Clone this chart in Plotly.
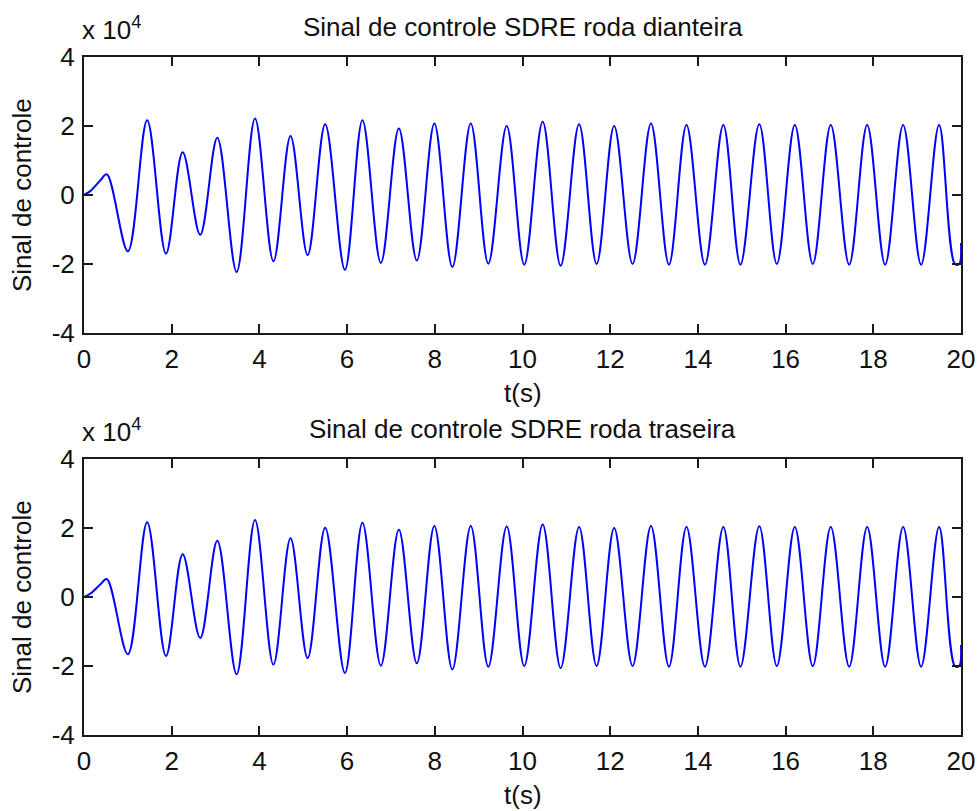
import plotly.graph_objects as go

# ---- data (units of the signal) ----
t_front = [0, 0.15, 0.37, 0.52, 1.00, 1.44, 1.87, 2.25, 2.65, 3.04, 3.48, 3.90, 4.32, 4.71,
           5.10, 5.50, 5.95, 6.35, 6.77, 7.18, 7.59, 7.99, 8.40, 8.82, 9.22, 9.64, 10.04,
           10.46, 10.87, 11.29, 11.69, 12.09, 12.51, 12.93, 13.34, 13.74, 14.16, 14.58,
           14.97, 15.40, 15.80, 16.21, 16.62, 17.03, 17.45, 17.86, 18.27, 18.68, 19.09,
           19.50, 19.86, 19.96, 20.0]
u_front = [0, 1200, 4200, 6000, -16300, 21700, -17000, 12400, -11500, 16600, -22300, 22200,
           -19200, 17100, -17400, 20500, -21700, 21700, -19700, 19300, -19000, 20700, -20900,
           20700, -19900, 20000, -20200, 21200, -20500, 20500, -20000, 20000, -20000, 20700,
           -20200, 20300, -20200, 20300, -20200, 20500, -20000, 20300, -20000, 20300, -20200,
           20300, -20200, 20300, -20200, 20300, -20000, -20000, -13900]

t_rear = [0, 0.15, 0.37, 0.52, 1.00, 1.44, 1.87, 2.25, 2.65, 3.04, 3.48, 3.90, 4.32, 4.71,
          5.10, 5.50, 5.95, 6.35, 6.77, 7.18, 7.59, 7.99, 8.40, 8.82, 9.22, 9.64, 10.04,
          10.46, 10.87, 11.29, 11.69, 12.09, 12.51, 12.93, 13.34, 13.74, 14.16, 14.58,
          14.97, 15.40, 15.80, 16.21, 16.62, 17.03, 17.45, 17.86, 18.27, 18.68, 19.09,
          19.50, 19.86, 19.96, 20.0]
u_rear = [0, 1000, 3600, 5200, -16600, 21700, -17100, 12400, -11900, 16300, -22400, 22300,
          -19600, 17000, -17700, 20100, -22000, 21500, -19900, 19500, -19200, 20600, -21000,
          20600, -20200, 20400, -20000, 21000, -20600, 20300, -20000, 20000, -20000, 20600,
          -20200, 20300, -20200, 20300, -20200, 20500, -20000, 20300, -20000, 20300, -20200,
          20300, -20200, 20300, -20200, 20300, -20000, -20000, -13900]

x_ticks = [0, 2, 4, 6, 8, 10, 12, 14, 16, 18, 20]
y_ticks = [-40000, -20000, 0, 20000, 40000]
y_tick_text = ["-4", "-2", "0", "2", "4"]

titles = ["Sinal de controle SDRE roda dianteira", "Sinal de controle SDRE roda traseira"]
y_label = "Sinal de controle"
x_label = "t(s)"

# ---- layout geometry ----
W, H = 978, 811
FONT = "Liberation Sans, Arial, sans-serif"
FS = 26
TXT = "#111111"
x_dom = [84 / W, 961 / W]
top_dom = [1 - 333 / H, 1 - 57 / H]
bot_dom = [1 - 735 / H, 1 - 459 / H]

fig = go.Figure()
fig.add_trace(go.Scatter(x=t_front, y=u_front, mode="lines",
                         line=dict(color="#0000ff", width=2, shape="spline", smoothing=1.0),
                         xaxis="x", yaxis="y", showlegend=False))
fig.add_trace(go.Scatter(x=t_rear, y=u_rear, mode="lines",
                         line=dict(color="#0000ff", width=2, shape="spline", smoothing=1.0),
                         xaxis="x2", yaxis="y2", showlegend=False))

axis_common = dict(showline=True, linecolor="#1a1a1a", linewidth=2, mirror="ticks",
                   ticks="inside", ticklen=9, tickwidth=1.5, tickcolor="#1a1a1a",
                   showgrid=False, zeroline=False, automargin=False,
                   tickfont=dict(family=FONT, size=FS, color=TXT))

xa = dict(axis_common, range=[0, 20], tickvals=x_ticks, domain=x_dom, ticklabelstandoff=2)
ya = dict(axis_common, range=[-40000, 40000], tickvals=y_ticks, ticktext=y_tick_text,
          ticklabelstandoff=2)

fig.update_layout(
    width=W, height=H,
    margin=dict(l=0, r=0, t=0, b=0, autoexpand=False),
    paper_bgcolor="white", plot_bgcolor="white",
    xaxis=dict(xa, anchor="y"),
    yaxis=dict(ya, domain=top_dom, anchor="x"),
    xaxis2=dict(xa, anchor="y2"),
    yaxis2=dict(ya, domain=bot_dom, anchor="x2"),
)

xc = (x_dom[0] + x_dom[1]) / 2
for title, dom in [(titles[0], top_dom), (titles[1], bot_dom)]:
    # subplot title
    fig.add_annotation(text=title, xref="paper", yref="paper",
                       x=xc, y=dom[1] + 30 / H,
                       xanchor="center", yanchor="middle", showarrow=False,
                       font=dict(family=FONT, size=FS, color=TXT))
    # exponent label
    fig.add_annotation(text="x 10<sup>4</sup>", xref="paper", yref="paper",
                       x=x_dom[0] - 4 / W, y=dom[1] + 10 / H,
                       xanchor="left", yanchor="bottom", showarrow=False,
                       font=dict(family=FONT, size=FS, color=TXT))
    # y-axis label
    fig.add_annotation(text=y_label, xref="paper", yref="paper",
                       x=22 / W, y=(dom[0] + dom[1]) / 2, textangle=-90,
                       xanchor="center", yanchor="middle", showarrow=False,
                       font=dict(family=FONT, size=FS, color=TXT))
    # x-axis label
    fig.add_annotation(text=x_label, xref="paper", yref="paper",
                       x=xc, y=dom[0] - 60 / H,
                       xanchor="center", yanchor="middle", showarrow=False,
                       font=dict(family=FONT, size=FS, color=TXT))

fig.write_html("out.html")
